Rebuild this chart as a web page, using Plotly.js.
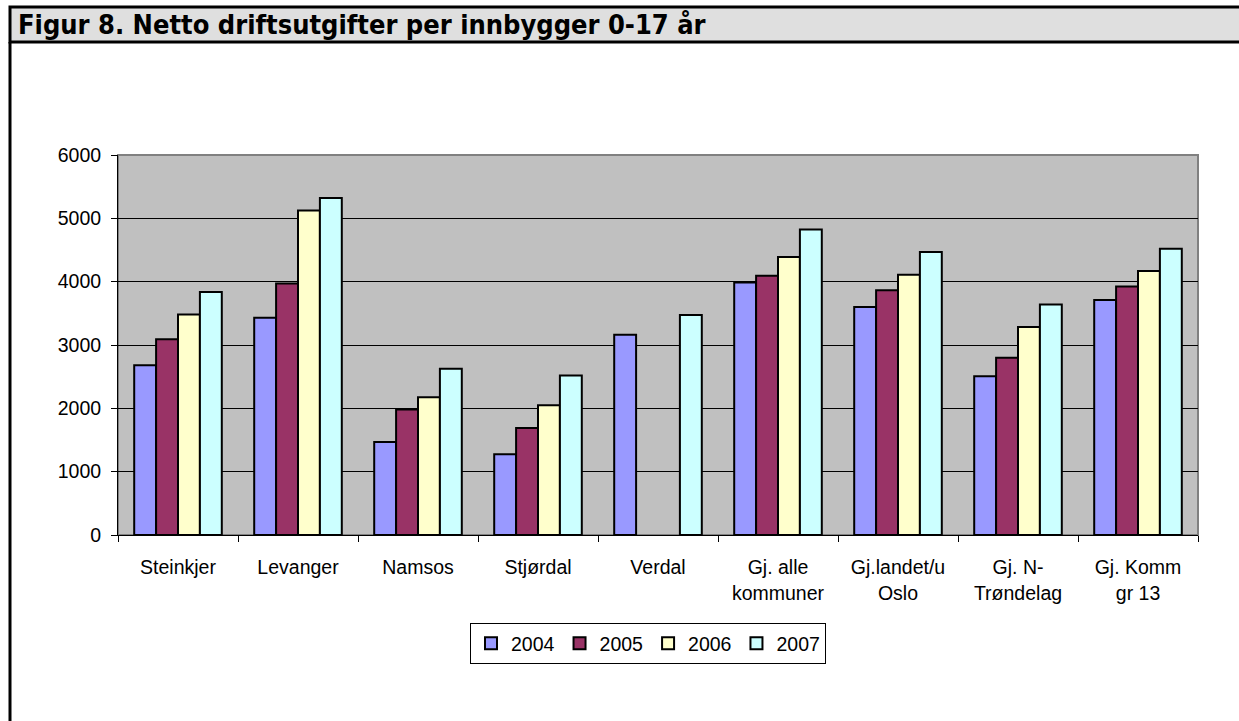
<!DOCTYPE html>
<html>
<head>
<meta charset="utf-8">
<script src="https://cdn.plot.ly/plotly-3.0.1.min.js"></script>
<style>
  html, body { margin: 0; padding: 0; background: #fff; }
  #chart { width: 1239px; height: 721px; }
</style>
</head>
<body>
<div id="chart"></div>
<script>
const categories = ["Steinkjer", "Levanger", "Namsos", "Stjørdal", "Verdal",
  "Gj. alle<br>kommuner", "Gj.landet/u<br>Oslo", "Gj. N-<br>Trøndelag", "Gj. Komm<br>gr 13"];
const seriesNames = ["2004", "2005", "2006", "2007"];
const v2004 = [2680, 3430, 1470, 1275, 3160, 3985, 3600, 2505, 3710];
const v2005 = [3090, 3970, 1980, 1690, null, 4095, 3865, 2800, 3925];
const v2006 = [3480, 5125, 2175, 2050, null, 4390, 4110, 3285, 4170];
const v2007 = [3835, 5320, 2625, 2520, 3475, 4825, 4470, 3640, 4520];
const yTicks = [0, 1000, 2000, 3000, 4000, 5000, 6000];
const titleText = "Figur 8. Netto driftsutgifter per innbygger 0-17 år";

const colors = ["#9999FF", "#993366", "#FFFFCC", "#CCFFFF"];
const allValues = [v2004, v2005, v2006, v2007];

const traces = allValues.map((vals, i) => ({
  type: "bar",
  name: seriesNames[i],
  x: categories,
  y: vals,
  marker: { color: colors[i], line: { color: "#000000", width: 2 } },
  hoverinfo: "x+y+name"
}));

const font = "Liberation Sans, Arial, sans-serif";
const fs = 19.5;

const layout = {
  width: 1239, height: 721,
  margin: { l: 118, r: 41, t: 155, b: 186 },
  paper_bgcolor: "#FFFFFF",
  plot_bgcolor: "#C0C0C0",
  barmode: "group",
  bargap: 0.27,
  bargroupgap: 0,
  font: { family: font, size: fs, color: "#000000" },
  title: {
    text: "<b>" + titleText + "</b>",
    font: { family: "DejaVu Sans Condensed, Liberation Sans, sans-serif", size: 27, color: "#000000" },
    x: 18 / 1239, xanchor: "left", xref: "container",
    y: 1 - 25 / 721, yanchor: "middle", yref: "container"
  },
  xaxis: {
    type: "category",
    tickson: "boundaries",
    ticks: "outside", ticklen: 6, tickcolor: "#000000", tickwidth: 1,
    ticklabelstandoff: 15,
    showline: true, linecolor: "#000000", linewidth: 1,
    showgrid: false,
    tickfont: { family: font, size: fs, color: "#000000" },
    fixedrange: true
  },
  yaxis: {
    range: [0, 6000],
    tickvals: yTicks,
    ticktext: yTicks.map(String),
    ticks: "outside", ticklen: 6, tickcolor: "#000000", tickwidth: 1,
    ticklabelstandoff: 6,
    showline: true, linecolor: "#000000", linewidth: 1,
    showgrid: true, gridcolor: "#000000", gridwidth: 1,
    zeroline: false,
    tickfont: { family: font, size: fs, color: "#000000" },
    fixedrange: true
  },
  showlegend: true,
  legend: {
    orientation: "h",
    x: (648 - 118) / 1080, xanchor: "center",
    y: (535 - 623) / 380, yanchor: "top",
    bordercolor: "#000000", borderwidth: 1,
    bgcolor: "#FFFFFF",
    font: { family: font, size: fs, color: "#000000" },
    itemwidth: 30,
    traceorder: "normal"
  },
  shapes: [
    { type: "rect", xref: "paper", yref: "paper",
      x0: (10 - 118) / 1080, x1: (1250 - 118) / 1080,
      y0: (535 - 42) / 380, y1: (535 - 7) / 380,
      fillcolor: "#DFDFDF", line: { color: "#000000", width: 3 }, layer: "below" },
    { type: "line", xref: "paper", yref: "paper",
      x0: (10 - 118) / 1080, x1: (10 - 118) / 1080,
      y0: (535 - 42) / 380, y1: (535 - 730) / 380,
      line: { color: "#000000", width: 3 } },
    { type: "rect", xref: "paper", yref: "paper",
      x0: 0, x1: 1, y0: 0, y1: 1,
      line: { color: "#808080", width: 2 }, layer: "below" }
  ]
};

Plotly.newPlot("chart", traces, layout, { displayModeBar: false, staticPlot: true });
</script>
</body>
</html>
